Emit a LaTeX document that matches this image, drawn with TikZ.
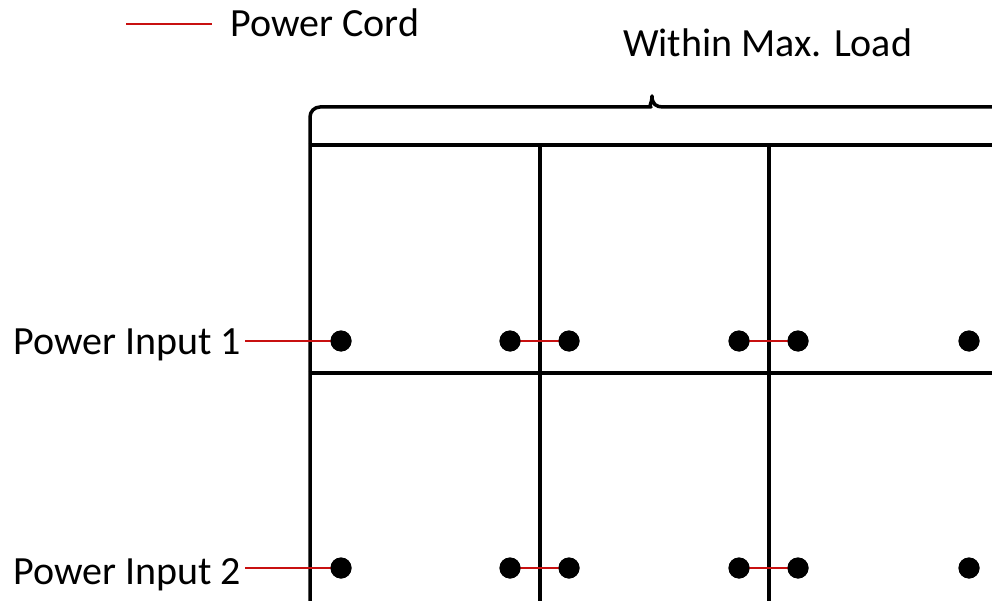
\documentclass[tikz,border=0pt]{standalone}
\usepackage{fontspec}
\setmainfont{Carlito}
\definecolor{cordred}{RGB}{200,16,16}
\begin{document}
\begin{tikzpicture}[x=1pt,y=-1pt,
  lbl/.style={inner xsep=4pt,inner ysep=0pt,font=\fontsize{40}{48}\selectfont},
  dot/.style={circle,fill=black,draw=none,minimum size=21pt,inner sep=0pt},
  grid/.style={line width=3.5pt,black},
  cord/.style={line width=1.7pt,cordred}]
\useasboundingbox (0,0) rectangle (992,601);
% legend
\coordinate (lg1) at (126,24);
\coordinate (lg2) at (212,24);
\draw[cord] (lg1) -- (lg2);
\node[lbl,anchor=base west,inner xsep=0pt] (legend) at (230,37) {Power Cord};
% title
\node[lbl,anchor=base west,inner xsep=0pt] (title) at (623,57) {Within Max. Load};
% brace
\draw[grid,line join=round] (310,601) {[rounded corners=10pt] -- (310,107) -- (641,107)}
  .. controls (648,107) and (652,104) .. (652,96)
  .. controls (652,104) and (656,107) .. (663,107) -- (995,107);
% grid
\draw[grid] (308.5,145) -- (995,145);
\draw[grid] (308.5,373) -- (995,373);
\draw[grid] (540,145) -- (540,602);
\draw[grid] (769,145) -- (769,602);
% dots
\foreach \r/\y in {1/341,2/568}{
  \node[dot] (d\r1) at (341,\y) {};
  \node[dot] (d\r2) at (510,\y) {};
  \node[dot] (d\r3) at (569,\y) {};
  \node[dot] (d\r4) at (739,\y) {};
  \node[dot] (d\r5) at (798,\y) {};
  \node[dot] (d\r6) at (969,\y) {};
}
% labels
\node[lbl,anchor=base west] (p1) at (9,354) {Power Input 1};
\node[lbl,anchor=base west] (p2) at (9,584) {Power Input 2};
% cords
\foreach \r in {1,2}{
  \draw[cord] (p\r.east |- d\r1.center) -- (d\r1.center);
  \draw[cord] (d\r2.center) -- (d\r3.center);
  \draw[cord] (d\r4.center) -- (d\r5.center);
}
% redraw dots above cords
\foreach \r in {1,2}{
  \foreach \c in {1,...,6}{
    \fill (d\r\c) circle[radius=10.5];
  }
}
\end{tikzpicture}
\end{document}
